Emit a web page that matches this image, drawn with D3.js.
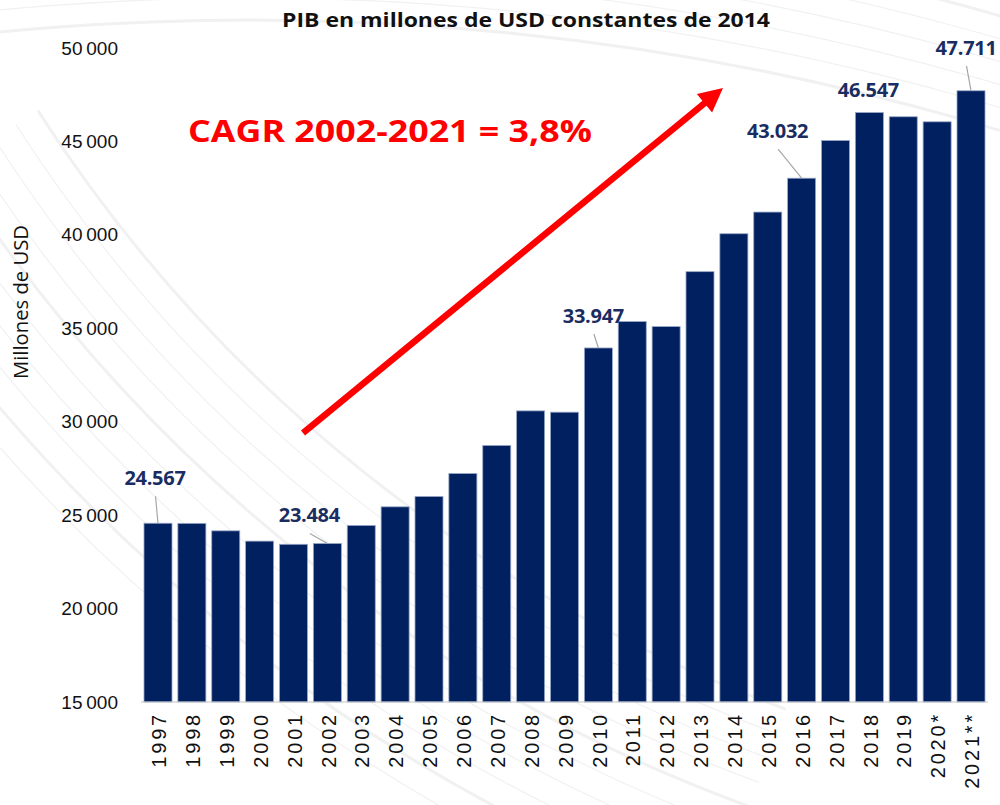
<!DOCTYPE html>
<html>
<head>
<meta charset="utf-8">
<script src="https://cdn.jsdelivr.net/npm/d3@7"></script>
<style>
  body { margin: 0; background: #fff; }
  svg { display: block; }
</style>
</head>
<body>
<svg width="1000" height="805"></svg>
<script>
// Chart data
const years = ["1997", "1998", "1999", "2000", "2001", "2002", "2003", "2004", "2005",
    "2006", "2007", "2008", "2009", "2010", "2011", "2012", "2013", "2014", "2015",
    "2016", "2017", "2018", "2019", "2020*", "2021**"];
const gdp = [24567, 24560, 24160, 23610, 23440, 23484, 24450, 25445, 26000,
    27230, 28730, 30580, 30510, 33947, 35360, 35090, 38030, 40060, 41220,
    43032, 45050, 46547, 46320, 46050, 47711];
const labelledYears = ["1997", "2002", "2010", "2016", "2018", "2021**"];
const yTicks = [15000, 20000, 25000, 30000, 35000, 40000, 45000, 50000];
const yTickLabels = ["15\u2009000", "20\u2009000", "25\u2009000", "30\u2009000",
    "35\u2009000", "40\u2009000", "45\u2009000", "50\u2009000"];

const title = "PIB en millones de USD constantes de 2014";
const yTitle = "Millones de USD";
const cagrText = "CAGR 2002-2021 = 3,8%";

// where each value label sits, relative to its bar top (label centre / baseline)
const labelOffset = {
    "1997":   {dx: -3,  dy: -38, leader: true},
    "2002":   {dx: -18, dy: -21, leader: true},
    "2010":   {dx: -5,  dy: -25, leader: true},
    "2016":   {dx: -24, dy: -40, leader: true},
    "2018":   {dx: -1,  dy: -16, leader: false},
    "2021**": {dx: -5,  dy: -36, leader: true}
};

const navy = "#002060";
const svg = d3.select("svg");

// faint background sweep (decoration only)
const bg = svg.append("g").attr("fill", "none").attr("stroke", "#f1f1f1");
const arcCurve = (cx, cy, r, a0, a1) => {
    const p = d3.path();
    p.arc(cx, cy, r, a0, a1);
    return p.toString();
};
for (let i = 0; i < 16; i++) {
    bg.append("path")
        .attr("stroke-width", i % 5 === 0 ? 3 : 1.2)
        .attr("d", arcCurve(250, 2620, 2600 + i * 22, -Math.PI / 2 - 0.25, -Math.PI / 2 + 0.45));
}
for (let i = 0; i < 10; i++) {
    bg.append("path")
        .attr("stroke-width", i % 4 === 0 ? 3 : 1.2)
        .attr("d", arcCurve(1300, -700, 1500 + i * 26, Math.PI / 2 + 0.35, Math.PI / 2 + 1.0));
}

const x = d3.scaleBand()
    .domain(years)
    .range([141.06, 987.94])
    .paddingInner(0.173)
    .paddingOuter(0.0865);

const y = d3.scaleLinear()
    .domain([15000, 50000])
    .range([702, 48]);

// bars
svg.append("g")
    .selectAll("rect")
    .data(years)
    .join("rect")
    .attr("x", d => x(d))
    .attr("y", (d, i) => y(gdp[i]))
    .attr("width", x.bandwidth())
    .attr("height", (d, i) => y(15000) - y(gdp[i]))
    .attr("fill", navy)
    .attr("stroke", "#9aa8c8")
    .attr("stroke-width", 0.8);

// base line
svg.append("line")
    .attr("x1", 141).attr("x2", 988)
    .attr("y1", y(15000)).attr("y2", y(15000))
    .attr("stroke", "#c8c8c8")
    .attr("stroke-width", 1.2);

// y axis (labels only)
const yAxis = d3.axisLeft(y)
    .tickValues(yTicks)
    .tickFormat((d, i) => yTickLabels[i])
    .tickSize(0)
    .tickPadding(0);
const yg = svg.append("g")
    .attr("transform", "translate(118,0)")
    .call(yAxis);
yg.select(".domain").remove();
yg.selectAll("text")
    .attr("font-family", "Liberation Sans, Arial, sans-serif")
    .attr("font-size", 19)
    .attr("fill", "#111");

// x axis (rotated labels)
const xAxis = d3.axisBottom(x).tickSize(0).tickPadding(0);
const xg = svg.append("g")
    .attr("transform", "translate(0,712)")
    .call(xAxis);
xg.select(".domain").remove();
xg.selectAll("text")
    .attr("font-family", "Liberation Sans, Arial, sans-serif")
    .attr("font-size", 20)
    .attr("letter-spacing", 2.8)
    .attr("fill", "#111")
    .attr("text-anchor", "end")
    .attr("dy", "0.36em")
    .attr("transform", "translate(1,0) rotate(-90)")
    .attr("x", 0)
    .attr("y", 0);

// value labels + leader lines
const fmt = v => d3.format(",")(v).replace(",", ".");
const lab = svg.append("g");
labelledYears.forEach(yr => {
    const i = years.indexOf(yr);
    const o = labelOffset[yr];
    const cx = x(yr) + x.bandwidth() / 2;
    const top = y(gdp[i]);
    const lx = cx + o.dx, ly = top + o.dy;
    if (o.leader) {
        lab.append("line")
            .attr("x1", lx + 0.5).attr("y1", ly + 11)
            .attr("x2", cx).attr("y2", top)
            .attr("stroke", "#a6a6a6")
            .attr("stroke-width", 1.2);
    }
    lab.append("text")
        .attr("x", lx).attr("y", ly)
        .attr("text-anchor", "middle")
        .attr("font-family", "Open Sans, sans-serif")
        .attr("font-weight", "bold")
        .attr("font-size", 20)
        .attr("letter-spacing", -0.3)
        .attr("fill", "#1a2d62")
        .text(fmt(gdp[i]));
});

// title
svg.append("text")
    .attr("x", 526).attr("y", 27)
    .attr("text-anchor", "middle")
    .attr("font-family", "Open Sans, sans-serif")
    .attr("font-weight", "bold")
    .attr("font-size", 20)
    .attr("textLength", 488)
    .attr("lengthAdjust", "spacingAndGlyphs")
    .attr("fill", "#111")
    .text(title);

// y axis title
svg.append("text")
    .attr("transform", "translate(28,302) rotate(-90)")
    .attr("text-anchor", "middle")
    .attr("font-family", "Open Sans, sans-serif")
    .attr("font-size", 20)
    .attr("textLength", 154)
    .attr("lengthAdjust", "spacingAndGlyphs")
    .attr("fill", "#111")
    .text(yTitle);

// CAGR annotation
svg.append("text")
    .attr("x", 188).attr("y", 142)
    .attr("font-family", "Open Sans, sans-serif")
    .attr("font-weight", "bold")
    .attr("font-size", 31)
    .attr("textLength", 404)
    .attr("lengthAdjust", "spacingAndGlyphs")
    .attr("fill", "#ff0000")
    .text(cagrText);

// red trend arrow
const a0 = {x: 303, y: 433}, a1 = {x: 723, y: 88};
const ang = Math.atan2(a1.y - a0.y, a1.x - a0.x);
const headLen = 24, headW = 12;
const bx = a1.x - headLen * Math.cos(ang), by = a1.y - headLen * Math.sin(ang);
svg.append("line")
    .attr("x1", a0.x).attr("y1", a0.y)
    .attr("x2", bx + 2 * Math.cos(ang)).attr("y2", by + 2 * Math.sin(ang))
    .attr("stroke", "#ff0000")
    .attr("stroke-width", 6.5);
svg.append("path")
    .attr("d", d3.line()([
        [a1.x, a1.y],
        [bx + headW * Math.sin(ang), by - headW * Math.cos(ang)],
        [bx - headW * Math.sin(ang), by + headW * Math.cos(ang)]
    ]) + "Z")
    .attr("fill", "#ff0000");
</script>
</body>
</html>
